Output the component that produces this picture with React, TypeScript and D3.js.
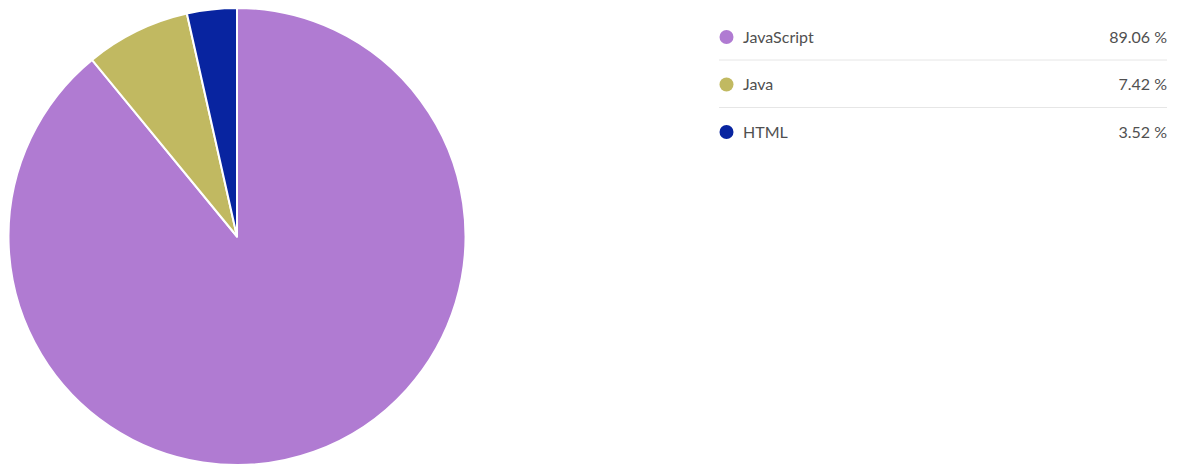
import React from "react";
import * as d3 from "d3";

const languages = ["JavaScript", "Java", "HTML"];
const shares = [89.06, 7.42, 3.52];
const colors = ["#b07bd2", "#c1b961", "#0824a0"];

const W = 1179;
const H = 466;

export default function App() {
  const cx = 237;
  const cy = 236.5;
  const r = 228.5;
  const pie = d3.pie<number>().sort(null).value((d) => d)(shares);
  const arc = d3.arc<d3.PieArcDatum<number>>().innerRadius(0).outerRadius(r);

  const lx0 = 719;
  const lx1 = 1167;
  const rowY = d3.scaleLinear().domain([0, 1]).range([37, 84.5]);

  return (
    <svg width={W} height={H} style={{ position: "absolute", left: 0, top: 0, background: "#fff" }}>
      <g transform={`translate(${cx},${cy})`}>
        {pie.map((p, i) => (
          <path key={i} d={arc(p) || ""} fill={colors[i]} stroke="#fff" strokeWidth={2} strokeLinejoin="round" />
        ))}
      </g>
      <g fontFamily="Lato, 'Open Sans', sans-serif" fontSize={16} fill="#505050">
        {languages.map((l, i) => {
          const y = rowY(i);
          return (
            <g key={l}>
              <circle cx={726.5} cy={y} r={7} fill={colors[i]} />
              <text x={743} y={y} dy="0.35em">{l}</text>
              <text x={lx1} y={y} dy="0.35em" textAnchor="end">{shares[i].toFixed(2)} %</text>
              {i < languages.length - 1 && (
                <line x1={lx0} x2={lx1} y1={y + 23} y2={y + 23} stroke="#e6e6e6" strokeWidth={1} />
              )}
            </g>
          );
        })}
      </g>
    </svg>
  );
}
